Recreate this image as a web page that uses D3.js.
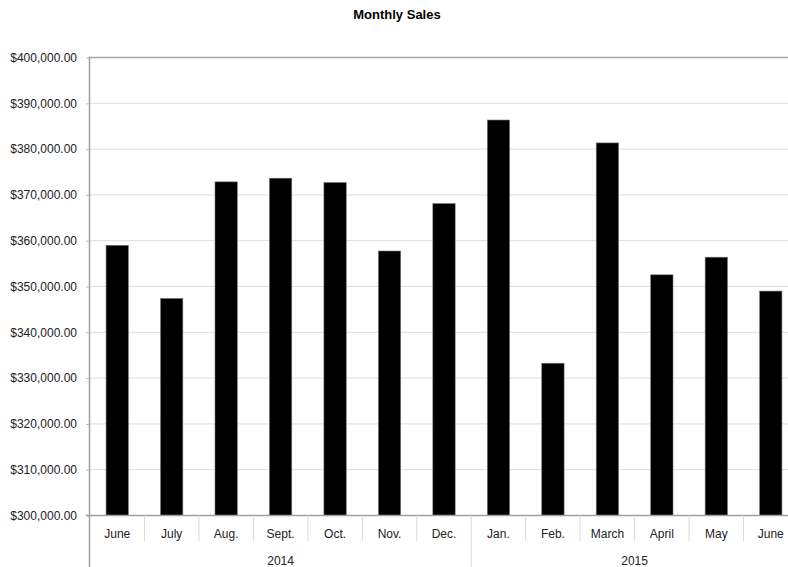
<!DOCTYPE html>
<html>
<head>
<meta charset="utf-8">
<script src="https://cdn.jsdelivr.net/npm/d3@7"></script>
<style>
  html, body { margin: 0; padding: 0; background: #fff; }
  svg { display: block; font-family: "Liberation Sans", Arial, Helvetica, sans-serif; }
</style>
</head>
<body>
<svg id="chart" width="788" height="567"></svg>
<script>
// Monthly sales, June 2014 – June 2015
const months = ["June", "July", "Aug.", "Sept.", "Oct.", "Nov.", "Dec.",
                "Jan.", "Feb.", "March", "April", "May", "June"];
const years = ["2014", "2014", "2014", "2014", "2014", "2014", "2014",
               "2015", "2015", "2015", "2015", "2015", "2015"];
const sales = [359000, 347400, 372850, 373650, 372700, 357750, 368100,
               386350, 333250, 381350, 352550, 356400, 349000];
const yTicks = [300000, 310000, 320000, 330000, 340000, 350000,
                360000, 370000, 380000, 390000, 400000];

const svg = d3.select("#chart");
const plotLeft = 90, plotRight = 798, plotTop = 57.5, plotBottom = 515.5;

const keys = months.map((m, i) => i);
const x = d3.scaleBand().domain(keys).range([plotLeft, plotRight]).paddingInner(0).paddingOuter(0);
const y = d3.scaleLinear().domain([300000, 400000]).range([plotBottom, plotTop]);
const fmt = v => "$" + d3.format(",.2f")(v);

// title
svg.append("text")
  .attr("x", 397).attr("y", 19)
  .attr("text-anchor", "middle")
  .attr("font-size", 13).attr("font-weight", "bold")
  .text("Monthly Sales");

// horizontal gridlines
svg.append("g").selectAll("line")
  .data(yTicks.filter(t => t !== 300000 && t !== 400000))
  .join("line")
  .attr("x1", plotLeft).attr("x2", 788)
  .attr("y1", d => y(d)).attr("y2", d => y(d))
  .attr("stroke", "#dcdcdc").attr("stroke-width", 1);

// top border line
svg.append("line")
  .attr("x1", plotLeft).attr("x2", 788)
  .attr("y1", y(400000)).attr("y2", y(400000))
  .attr("stroke", "#a8a8a8").attr("stroke-width", 1.5);

// y axis with labels
const yAxis = d3.axisLeft(y).tickValues(yTicks).tickFormat(fmt).tickSize(4).tickPadding(9);
const yg = svg.append("g").attr("transform", `translate(${plotLeft},0)`).call(yAxis);
yg.select(".domain").remove();
yg.selectAll(".tick line").attr("stroke", "#bbb");
yg.selectAll(".tick text")
  .attr("font-size", 12).attr("fill", "#222")
  .attr("font-family", "Liberation Sans, Arial, sans-serif");

// bars
svg.append("g").selectAll("rect")
  .data(sales)
  .join("rect")
  .attr("x", (d, i) => x(i) + x.bandwidth() * 0.295)
  .attr("width", x.bandwidth() * 0.41)
  .attr("y", d => y(d))
  .attr("height", d => y(300000) - y(d))
  .attr("fill", "#000")
  .attr("stroke", "#777").attr("stroke-width", 0.6);

// left axis line (extends down through category area)
svg.append("line")
  .attr("x1", plotLeft - 0.5).attr("x2", plotLeft - 0.5)
  .attr("y1", plotTop - 1).attr("y2", 567)
  .attr("stroke", "#a0a0a0").attr("stroke-width", 1.5);

// bottom axis line
svg.append("line")
  .attr("x1", plotLeft - 4).attr("x2", 788)
  .attr("y1", plotBottom).attr("y2", plotBottom)
  .attr("stroke", "#a0a0a0").attr("stroke-width", 1.5);

// month labels
const xAxis = d3.axisBottom(x).tickFormat(i => months[i]).tickSize(0).tickPadding(14);
const xg = svg.append("g").attr("transform", `translate(0,${plotBottom})`).call(xAxis);
xg.select(".domain").remove();
xg.selectAll(".tick text")
  .attr("font-size", 12).attr("fill", "#222")
  .attr("font-family", "Liberation Sans, Arial, sans-serif");

// separators between months
svg.append("g").selectAll("line")
  .data(keys.slice(1))
  .join("line")
  .attr("x1", i => x(i)).attr("x2", i => x(i))
  .attr("y1", plotBottom)
  .attr("y2", i => years[i] !== years[i - 1] ? 567 : 541)
  .attr("stroke", "#d8d8d8").attr("stroke-width", 1);

// year labels centred under their months
const yearGroups = d3.groups(keys, i => years[i]);
svg.append("g").selectAll("text")
  .data(yearGroups)
  .join("text")
  .attr("x", ([, idx]) => (x(idx[0]) + x(idx[idx.length - 1]) + x.bandwidth()) / 2)
  .attr("y", 565)
  .attr("text-anchor", "middle")
  .attr("font-size", 12).attr("fill", "#222")
  .text(([yr]) => yr);
</script>
</body>
</html>
